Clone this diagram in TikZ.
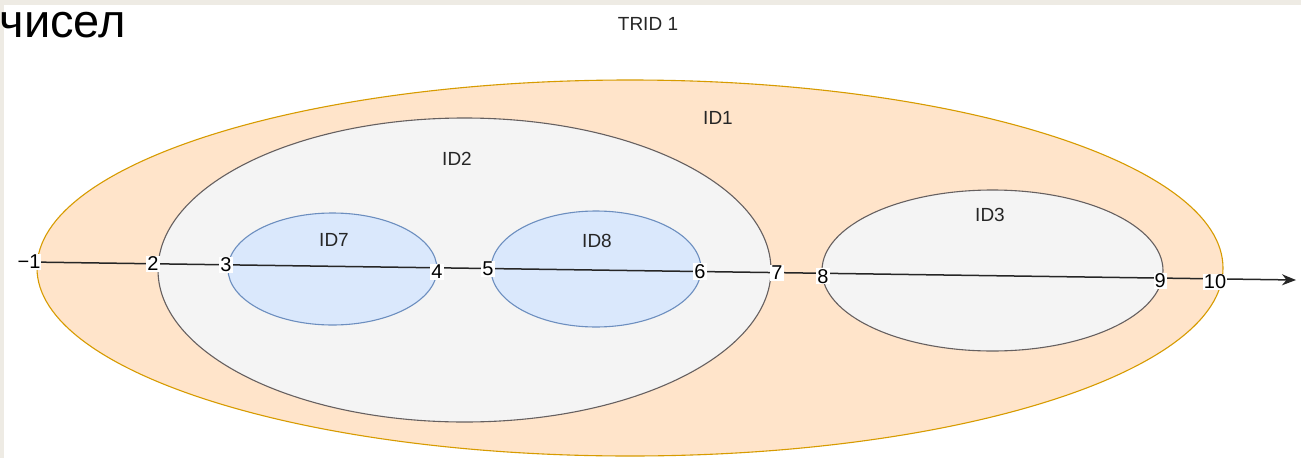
\documentclass[tikz,border=0pt]{standalone}
\usepackage{fontspec}
\setmainfont{Liberation Sans}
\usetikzlibrary{shapes.geometric,arrows.meta}
\definecolor{stripgrey}{HTML}{EEEBE4}
\definecolor{orfill}{HTML}{FFE4CA}
\definecolor{ordraw}{HTML}{D79B00}
\definecolor{gyfill}{HTML}{F4F4F4}
\definecolor{gydraw}{HTML}{666060}
\definecolor{blfill}{HTML}{DAE8FC}
\definecolor{bldraw}{HTML}{6C8EBF}
\tikzset{
  oval/.style={ellipse, inner sep=0pt, line width=1.1pt},
  orangeoval/.style={oval, fill=orfill, draw=ordraw},
  greyoval/.style={oval, fill=gyfill, draw=gydraw},
  blueoval/.style={oval, fill=blfill, draw=bldraw},
  lbl/.style={font=\fontsize{19}{22}\selectfont, text=black!85, inner sep=1pt},
  num/.style={font=\fontsize{20}{22}\selectfont, fill=white, inner sep=1pt, text=black},
  axis/.style={line width=1.5pt, draw=black!85, -{Stealth[length=14pt,width=11pt]}}
}
\begin{document}
\begin{tikzpicture}[x=1pt,y=-1pt]
\useasboundingbox (0,0) rectangle (1301,458);
\fill[white] (0,0) rectangle (1301,458);
\fill[stripgrey] (0,0) rectangle (1301,5);
\fill[stripgrey] (0,0) rectangle (4,458);
\node[anchor=base east, font=\fontsize{47}{52}\selectfont, inner sep=0pt] (title) at (126,37) {чисел};
\node[lbl] (trid) at (648,24) {TRID 1};
% ellipses
\node[orangeoval, minimum width=1186pt, minimum height=376pt] (id1) at (630,268) {};
\node[greyoval, minimum width=613pt, minimum height=304pt] (id2) at (464.5,270) {};
\node[blueoval, minimum width=209pt, minimum height=112pt] (id7) at (332.5,269) {};
\node[blueoval, minimum width=210pt, minimum height=116pt] (id8) at (596,269) {};
\node[greyoval, minimum width=341pt, minimum height=161pt] (id3) at (992.5,270.5) {};
% ellipse labels
\node[lbl] (l1) at (718,118) {ID1};
\node[lbl] (l2) at (457,159) {ID2};
\node[lbl] (l7) at (334,240) {ID7};
\node[lbl] (l8) at (597,241) {ID8};
\node[lbl] (l3) at (990,215) {ID3};
% axis
\coordinate (a0) at (29,262);
\coordinate (a1) at (1296,280);
\draw[axis] (a0) -- (a1)
  node[num, pos=0] (n0) {−1}
  node[num, pos=0.0979] (n2) {2}
  node[num, pos=0.1555] (n3) {3}
  node[num, pos=0.322, yshift=-4pt] (n4) {4}
  node[num, pos=0.3623] (n5) {5}
  node[num, pos=0.5296] (n6) {6}
  node[num, pos=0.5904] (n7) {7}
  node[num, pos=0.6267, yshift=-3pt] (n8) {8}
  node[num, pos=0.8927, yshift=-3pt] (n9) {9}
  node[num, pos=0.9361, yshift=-3pt] (n10) {10};
\end{tikzpicture}
\end{document}
